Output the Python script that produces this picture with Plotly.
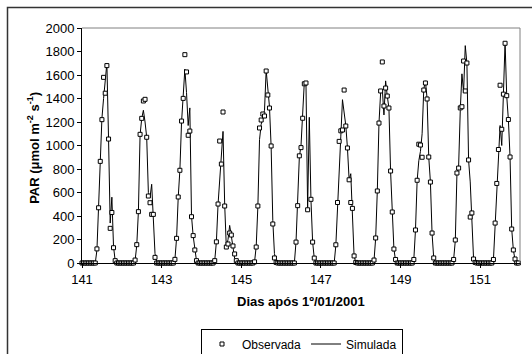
import plotly.graph_objects as go

# ---------------- data (hourly, h0..h23 for each day) ----------------
days = [141, 142, 143, 144, 145, 146, 147, 148, 149, 150, 151]
hours = list(range(24))
x_ticks = [141, 143, 145, 147, 149, 151]
x_tick_labels = ["141", "143", "145", "147", "149", "151"]

N = None
obs_141 = [0, 0, 0, 0, 0, 0, 0, 0, 0, 120, 470, 865, 1220, 1580, 1445, 1680, 1055, 295, 430, 130, 20, 0, 0, 0]
obs_142 = [0, 0, 0, 0, 0, 0, 0, 0, 25, 156, 437, 1095, 1231, 1379, 1393, 1070, 570, 513, 414, 414, 48, 0, 0, 0]
obs_143 = [0, 0, 0, 0, 0, 0, 0, 0, 31, 210, 562, 789, 1208, 1401, 1773, 1626, 1087, 1123, 394, 233, 111, 20, 0, 0]
obs_144 = [0, 0, 0, 0, 0, 0, 0, 0, 20, 180, 502, 1038, 842, 1285, 485, 136, 162, 255, 238, 145, 77, 20, 0, 0]
obs_145 = [0, 0, 0, 0, 0, 0, 0, 0, 10, 136, 485, 1149, 1217, 1268, 1251, 1634, 1430, 1319, 996, 332, 43, 5, 0, 0]
obs_146 = [0, 0, 0, 0, 0, 0, 0, 0, 0, 178, 488, 912, 982, 1232, 1525, 1532, 453, N, 542, 178, 42, 0, 0, 0]
obs_147 = [0, 0, 0, 0, 0, 0, 0, 0, 0, 155, 515, 1035, 1125, 1132, 1472, 1166, 979, 708, 515, 465, 60, 5, 0, 0]
obs_148 = [0, 0, 0, 0, 0, 0, 0, 0, 25, 213, 613, 1191, 1464, 1711, 1336, 1489, 1421, 1319, 783, 434, 119, 30, 0, 0]
obs_149 = [0, 0, 0, 0, 0, 0, 0, 0, 30, 281, 704, 1011, 1004, 900, 1472, 1532, 1396, 902, 689, 255, 43, 0, 0, 0]
obs_150 = [0, 0, 0, 0, 0, 0, 0, 0, 30, 196, 766, 808, 1320, 1330, 1719, 1464, 1702, 877, 391, 426, 34, 5, 0, 0]
obs_151 = [0, 0, 0, 0, 0, 0, 0, 0, 30, 340, 677, 966, 1513, 1138, 1437, 1870, 1424, 1221, 902, 289, 111, 34, 0, 0]

sim_141 = [0, 0, 0, 0, 0, 0, 0, 0, 0, 110, 470, 860, 1230, 1400, 1550, 1700, 1055, 340, 560, 140, 20, 0, 0, 0]
sim_142 = [0, 0, 0, 0, 0, 0, 0, 0, 20, 150, 440, 1090, 1230, 1300, 1200, 1070, 600, 560, 670, 410, 80, 10, 0, 0]
sim_143 = [0, 0, 0, 0, 0, 0, 0, 0, 30, 210, 560, 790, 1200, 1400, 1650, 1450, 1170, 1320, 400, 230, 110, 20, 0, 0]
sim_144 = [0, 0, 0, 0, 0, 0, 0, 0, 20, 180, 500, 680, 900, 1120, 500, 130, 200, 320, 230, 120, 40, 5, 0, 0]
sim_145 = [0, 0, 0, 0, 0, 0, 0, 0, 10, 140, 480, 1050, 1180, 1250, 1300, 1640, 1480, 1330, 990, 360, 80, 10, 0, 0]
sim_146 = [0, 0, 0, 0, 0, 0, 0, 0, 0, 180, 490, 900, 1000, 1240, 1540, 1530, 470, 1240, 540, 180, 40, 0, 0, 0]
sim_147 = [0, 0, 0, 0, 0, 0, 0, 0, 0, 150, 510, 880, 1080, 1390, 1300, 1170, 980, 710, 760, 470, 60, 5, 0, 0]
sim_148 = [0, 0, 0, 0, 0, 0, 0, 0, 20, 210, 615, 1190, 1450, 1480, 1260, 1550, 1420, 1320, 780, 430, 120, 20, 0, 0]
sim_149 = [0, 0, 0, 0, 0, 0, 0, 0, 30, 280, 700, 870, 950, 1100, 1480, 1550, 1400, 900, 690, 250, 40, 0, 0, 0]
sim_150 = [0, 0, 0, 0, 0, 0, 0, 0, 30, 190, 760, 820, 1300, 1610, 1455, 1850, 1700, 877, 690, 420, 40, 5, 0, 0]
sim_151 = [0, 0, 0, 0, 0, 0, 0, 0, 30, 340, 680, 966, 1170, 1000, 1440, 1880, 1420, 1220, 900, 290, 110, 30, 0, 0]

obs_days = [obs_141, obs_142, obs_143, obs_144, obs_145, obs_146,
            obs_147, obs_148, obs_149, obs_150, obs_151]
sim_days = [sim_141, sim_142, sim_143, sim_144, sim_145, sim_146,
            sim_147, sim_148, sim_149, sim_150, sim_151]

t, obs, sim = [], [], []
for d, o, s in zip(days, obs_days, sim_days):
    for h in hours:
        t.append(d + h / 24.0)
        obs.append(o[h])
        sim.append(s[h])

FONT = "Liberation Sans, Arial, sans-serif"

W, H = 532, 354
ML, MT, MR = 82, 28, 12
PLOT_H = 235
MB = H - MT - PLOT_H
PLOT_W = W - ML - MR

fig = go.Figure()
fig.add_trace(go.Scatter(
    x=t, y=sim, mode="lines", name="Simulada",
    line=dict(color="black", width=1), cliponaxis=False,
))
fig.add_trace(go.Scatter(
    x=t, y=obs, mode="markers", name="Observada",
    marker=dict(symbol="square", size=4, color="white",
                line=dict(color="black", width=1)),
    cliponaxis=False,
))

fx0 = -(ML - 7.5) / PLOT_W            # outer frame left edge (paper units)
fy1 = (PLOT_H + MT - 7.5) / PLOT_H     # outer frame top edge (paper units)

fig.update_layout(
    width=W, height=H,
    margin=dict(l=ML, r=MR, t=MT, b=MB, autoexpand=False),
    paper_bgcolor="white", plot_bgcolor="white",
    font=dict(family=FONT, size=13, color="black"),
    showlegend=True,
    legend=dict(
        orientation="h", xref="container", yref="container",
        x=302.0 / W, xanchor="center", y=1 - 328.5 / H, yanchor="top",
        bordercolor="black", borderwidth=1, bgcolor="white",
        font=dict(family=FONT, size=12, color="black"),
        traceorder="reversed", itemwidth=30,
    ),
    xaxis=dict(
        range=[141, 152], tickvals=x_ticks, ticktext=x_tick_labels,
        ticks="outside", ticklen=4, tickcolor="black",
        showline=True, linecolor="black", linewidth=1,
        showgrid=False, zeroline=False,
        tickfont=dict(family=FONT, size=13, color="black"),
    ),
    yaxis=dict(
        range=[0, 2000], dtick=200, tick0=0,
        ticks="outside", ticklen=4, tickcolor="black",
        showline=True, linecolor="black", linewidth=1,
        showgrid=False, zeroline=False,
        tickfont=dict(family=FONT, size=13, color="black"),
    ),
    shapes=[
        dict(type="line", xref="paper", yref="paper", x0=0, y0=1, x1=1, y1=1,
             line=dict(color="#808080", width=1), layer="above"),
        dict(type="line", xref="paper", yref="paper", x0=1, y0=0, x1=1, y1=1,
             line=dict(color="#808080", width=1), layer="above"),
        # outer chart-area frame (right/bottom edges fall outside the page)
        dict(type="rect", xref="paper", yref="paper",
             x0=fx0, y0=-0.5, x1=1.1, y1=fy1,
             line=dict(color="#333333", width=1.5), layer="above"),
    ],
    annotations=[
        dict(text="<b>PAR (μmol m<sup>-2</sup> s<sup>-1</sup>)</b>",
             xref="paper", yref="paper", x=-49.0 / PLOT_W, y=0.49,
             xanchor="center", yanchor="middle", textangle=-90,
             showarrow=False, font=dict(family=FONT, size=13, color="black")),
        dict(text="<b>Dias após 1º/01/2001</b>",
             xref="paper", yref="paper", x=0.5, y=-38.0 / PLOT_H,
             xanchor="center", yanchor="middle",
             showarrow=False, font=dict(family=FONT, size=13, color="black")),
    ],
)

frame_js = (
    "document.body.style.margin='0';"
    "document.body.style.overflow='hidden';"
    "var fr=document.createElement('div');"
    "fr.style.cssText='position:absolute;left:7px;top:7px;width:600px;"
    "height:400px;border-top:1.5px solid #333;border-left:1.5px solid #333;"
    "pointer-events:none;z-index:10;';"
    "document.body.appendChild(fr);"
)

fig.write_html("out.html", config={"displayModeBar": False},
               post_script=frame_js)
